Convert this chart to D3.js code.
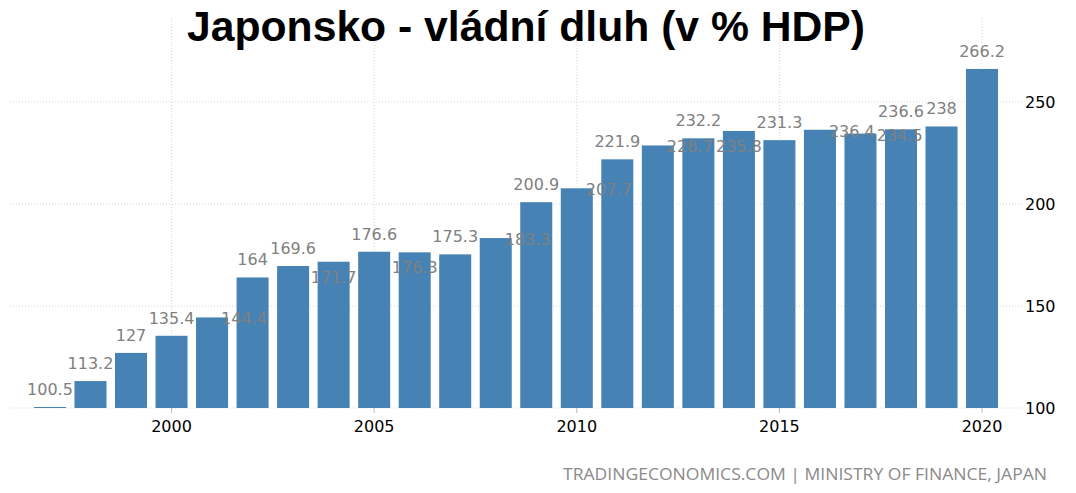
<!DOCTYPE html>
<html><head><meta charset="utf-8">
<script src="https://cdn.jsdelivr.net/npm/d3@7"></script>
<style>body{margin:0;background:#fff}svg{display:block}</style>
</head><body><svg id="c" width="1076" height="493"></svg>
<script>
const years = [1997,1998,1999,2000,2001,2002,2003,2004,2005,2006,2007,2008,2009,2010,2011,2012,2013,2014,2015,2016,2017,2018,2019,2020];
const debt = [100.5,113.2,127,135.4,144.4,164,169.6,171.7,176.6,176.3,175.3,183.3,200.9,207.7,221.9,228.7,232.2,235.8,231.3,236.4,234.5,236.6,238,266.2];
const yTicks = [100,150,200,250];
const xTicks = [2000,2005,2010,2015,2020];
const title = "Japonsko - vládní dluh (v % HDP)";
const source = "TRADINGECONOMICS.COM | MINISTRY OF FINANCE, JAPAN";

const svg = d3.select("#c");
const x = d3.scaleBand().domain(years).range([29.7, 1002.3]).paddingInner(0.21).paddingOuter(0.105);
const y = d3.scaleLinear().domain([100, 300]).range([408, 0]);
const cx = d => x(d) + x.bandwidth() / 2;

// grid
svg.append("g").selectAll("line").data(yTicks).join("line")
  .attr("x1", 10).attr("x2", 1022).attr("y1", d => y(d)).attr("y2", d => y(d))
  .attr("stroke", "#d6d6d6").attr("stroke-dasharray", "1,2");
svg.append("g").selectAll("line").data(xTicks).join("line")
  .attr("x1", cx).attr("x2", cx).attr("y1", 18).attr("y2", 408)
  .attr("stroke", "#d6d6d6").attr("stroke-dasharray", "1,2");

// bars
svg.append("g").selectAll("rect").data(years).join("rect")
  .attr("x", d => x(d)).attr("width", x.bandwidth())
  .attr("y", (d, i) => y(debt[i])).attr("height", (d, i) => Math.max(1, y(100) - y(debt[i])))
  .attr("fill", "#4682b4");

// y axis (right)
const ya = svg.append("g").attr("transform", "translate(1025,0)")
  .call(d3.axisRight(y).tickValues(yTicks).tickSize(0).tickPadding(0));
ya.select(".domain").remove();
ya.selectAll("text").attr("font-family", "DejaVu Sans").attr("font-size", 16).attr("fill", "#000");

// x axis
const xa = svg.append("g").attr("transform", "translate(0,408)")
  .call(d3.axisBottom(x).tickValues(xTicks).tickSize(5).tickPadding(7.5));
xa.select(".domain").remove();
xa.selectAll("line").attr("stroke", "#bbb");
xa.selectAll("text").attr("font-family", "DejaVu Sans").attr("font-size", 16).attr("fill", "#000");

// data labels with simple collision avoidance
const lbl = svg.append("g").attr("font-family", "DejaVu Sans").attr("font-size", 16).attr("fill", "#808080");
const CAP = 12, PA = 8, PI = 13;
let prev = null;
const gap = (a, b) => {
  if (!b) return Infinity;
  if (a.r <= b.l || a.l >= b.r) return Infinity;
  return Math.max(a.t - b.b, b.t - a.b);
};
years.forEach((yr, i) => {
  const v = debt[i], c = cx(yr), top = y(v);
  const t = lbl.append("text").text(String(v));
  const w = t.node().getComputedTextLength();
  const box = (left, base) => ({ l: left, r: left + w, t: base - CAP, b: base });
  let bx = box(c - w / 2, top - 12);
  if (gap(bx, prev) < PA) {
    bx = box(c - w / 2, top + 21);
    if (gap(bx, prev) < PI) {
      bx = box(c + 9, top + 7);
      if (gap(bx, prev) < PA) bx = box(prev.r + 2, top + 7);
    }
  }
  t.attr("x", bx.l).attr("y", bx.b);
  prev = bx;
});

// title
svg.append("text").attr("x", 526).attr("y", 41).attr("text-anchor", "middle")
  .attr("font-family", "Liberation Sans, Arial, sans-serif").attr("font-weight", "bold")
  .attr("font-size", 43).attr("textLength", 678).attr("lengthAdjust", "spacingAndGlyphs")
  .attr("fill", "#000").text(title);

// source
svg.append("text").attr("x", 563).attr("y", 480)
  .attr("font-family", "Open Sans, sans-serif").attr("font-size", 16)
  .attr("textLength", 484).attr("lengthAdjust", "spacingAndGlyphs")
  .attr("fill", "#8a8a8a").text(source);
</script></body></html>
